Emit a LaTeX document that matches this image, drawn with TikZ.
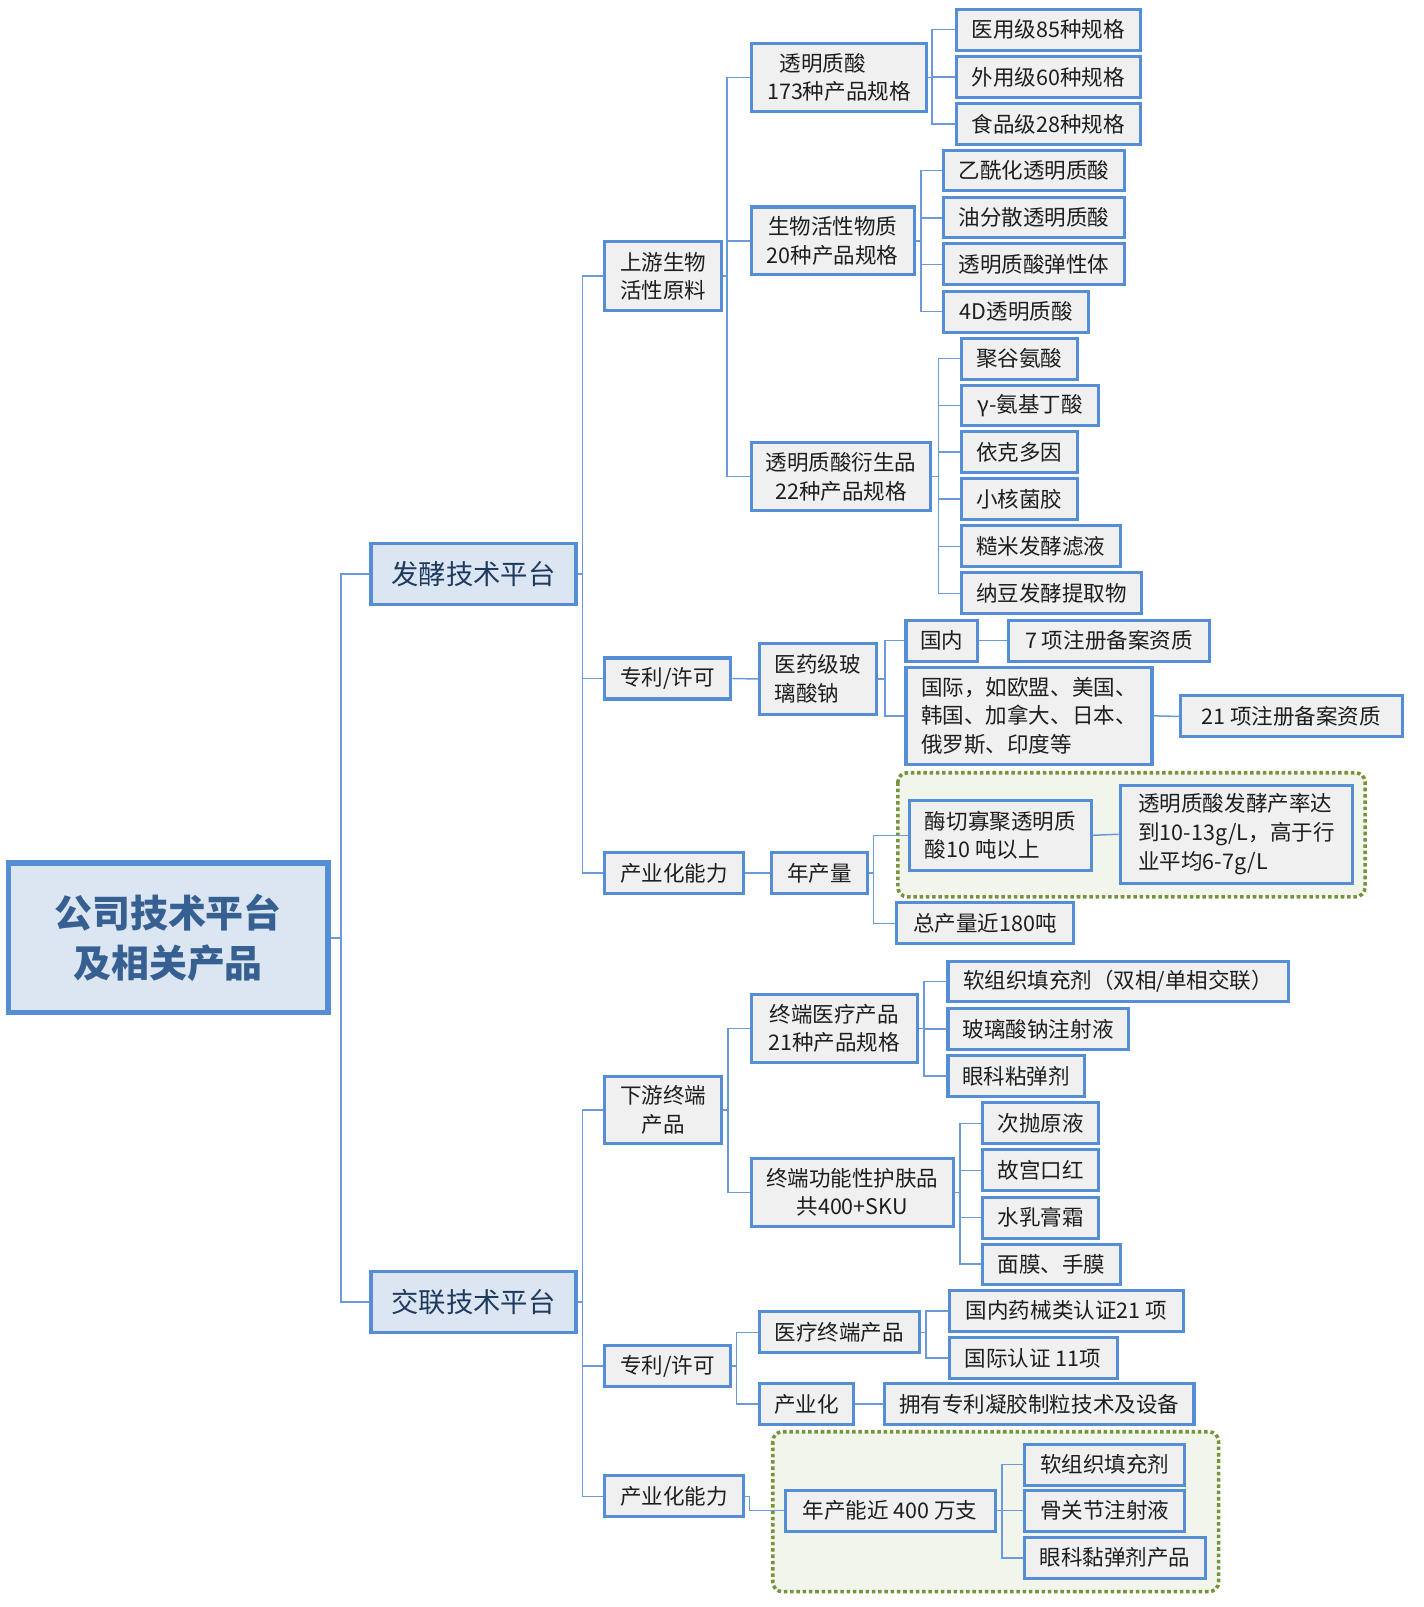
\documentclass[tikz,border=0pt]{standalone}
\usepackage{fontspec}
\newfontfamily\cjk{Noto Sans CJK SC}
\definecolor{bord}{HTML}{558ED5}
\definecolor{lnc}{HTML}{6A9BD8}
\definecolor{leaf}{HTML}{F0F0F0}
\definecolor{lvl}{HTML}{DCE6F2}
\definecolor{txt}{HTML}{1E1E1E}
\definecolor{navy}{HTML}{1F3A5F}
\definecolor{roottxt}{HTML}{376092}
\definecolor{grn}{HTML}{77933C}
\definecolor{grnfill}{HTML}{F2F5EC}
\newcommand\linkto[3]{\draw[ln] (#1.east) -- ++(#3,0) |- (#2.west);}
\tikzset{
  bspan/.style n args={4}{minimum width={(#3-#1)*0.75pt}, minimum height={(#4-#2)*0.75pt},
    at={({(#1+#3)/2},{(#2+#4)/2})}},
  bbase/.style={draw=bord, line width=2.25pt, fill=leaf, inner sep=0pt, text=txt,
    font=\cjk\fontsize{15.75}{21}\selectfont},
  bx/.style={bbase, align=center},
  lbx/.style={bbase, align=left},
  lv/.style={bx, fill=lvl, text=navy, font=\cjk\fontsize{20}{26}\selectfont},
  rootbox/.style={bx, fill=lvl, line width=3.75pt, text=roottxt,
    font=\cjk\bfseries\fontsize{27.75}{37}\selectfont},
  ln/.style={draw=lnc, line width=1.1pt},
  grnbox/.style={draw=grn, fill=grnfill, line width=2.6pt, dotted, rounded corners=7pt},
}
\begin{document}
\begin{tikzpicture}[x=0.75pt,y=-0.75pt]
\useasboundingbox (0,0) rectangle (1389,1568);
% green groups
\draw[grnbox] (876,754) rectangle (1332,875);
\draw[grnbox] (754,1397) rectangle (1189,1553);
% root and level 1
\node[rootbox, bspan={8}{842}{320}{988}] (root) {公司技术平台\\及相关产品};
\node[lv, bspan={362}{530}{562}{590}] (f1) {发酵技术平台};
\node[lv, bspan={362}{1241}{562}{1300}] (f2) {交联技术平台};
% fermentation
\node[bx, bspan={590}{236}{704}{303}] (A) {上游生物\\活性原料};
\node[bx, bspan={590}{642}{713}{682}] (B) {专利/许可};
\node[bx, bspan={590}{832}{725}{872}] (C) {产业化能力};
\node[bx, bspan={733}{42}{904}{109}] (A1) {透明质酸\hspace*{1.5em}\\173种产品规格};
\node[bx, bspan={733}{202}{892}{268}] (A2) {生物活性物质\\20种产品规格};
\node[bx, bspan={733}{432}{908}{498}] (A3) {透明质酸衍生品\\22种产品规格};
\node[bx, bspan={933}{9}{1113}{49}] (A1a) {医用级85种规格};
\node[bx, bspan={933}{55}{1113}{95}] (A1b) {外用级60种规格};
\node[bx, bspan={933}{101}{1113}{141}] (A1c) {食品级28种规格};
\node[bx, bspan={921}{147}{1097}{186}] (A2a) {乙酰化透明质酸};
\node[bx, bspan={921}{193}{1097}{232}] (A2b) {油分散透明质酸};
\node[bx, bspan={921}{238}{1097}{278}] (A2c) {透明质酸弹性体};
\node[bx, bspan={921}{284}{1062}{324}] (A2d) {4D透明质酸};
\node[bx, bspan={938}{330}{1051}{370}] (A3a) {聚谷氨酸};
\node[bx, bspan={938}{376}{1072}{415}] (A3b) {γ-氨基丁酸};
\node[bx, bspan={938}{421}{1051}{461}] (A3c) {依克多因};
\node[bx, bspan={938}{467}{1051}{507}] (A3d) {小核菌胶};
\node[bx, bspan={938}{513}{1093}{553}] (A3e) {糙米发酵滤液};
\node[bx, bspan={938}{559}{1114}{599}] (A3f) {纳豆发酵提取物};
\node[lbx, bspan={741}{628}{855}{697}] (B1) {医药级玻\\璃酸钠};
\node[bx, bspan={884}{605}{954}{645}] (B1a) {国内};
\node[lbx, bspan={884}{651}{1124}{746}] (B1b) {国际，如欧盟、美国、\\韩国、加拿大、日本、\\俄罗斯、印度等};
\node[bx, bspan={984}{605}{1180}{645}] (B1a1) {7 项注册备案资质};
\node[bx, bspan={1152}{679}{1368}{719}] (B1b1) {21 项注册备案资质};
\node[bx, bspan={753}{832}{846}{872}] (C1) {年产量};
\node[lbx, bspan={887}{781}{1065}{849}] (C1a) {酶切寡聚透明质\\酸10 吨以上};
\node[lbx, bspan={1093}{766}{1320}{862}] (C1a1) {透明质酸发酵产率达\\到10-13g/L，高于行\\业平均6-7g/L};
\node[bx, bspan={875}{881}{1047}{921}] (C1b) {总产量近180吨};
% crosslinking
\node[bx, bspan={590}{1050}{704}{1116}] (D) {下游终端\\产品};
\node[bx, bspan={590}{1313}{713}{1353}] (E) {专利/许可};
\node[bx, bspan={590}{1440}{725}{1480}] (F) {产业化能力};
\node[bx, bspan={733}{970}{895}{1037}] (D1) {终端医疗产品\\21种产品规格};
\node[bx, bspan={733}{1130}{930}{1197}] (D2) {终端功能性护肤品\\共400+SKU};
\node[bx, bspan={925}{938}{1257}{977}] (D1a) {软组织填充剂（双相/单相交联）};
\node[bx, bspan={925}{984}{1101}{1024}] (D1b) {玻璃酸钠注射液};
\node[bx, bspan={925}{1030}{1058}{1070}] (D1c) {眼科粘弹剂};
\node[bx, bspan={959}{1076}{1072}{1116}] (D2a) {次抛原液};
\node[bx, bspan={959}{1122}{1072}{1162}] (D2b) {故宫口红};
\node[bx, bspan={959}{1168}{1072}{1208}] (D2c) {水乳膏霜};
\node[bx, bspan={959}{1214}{1093}{1253}] (D2d) {面膜、手膜};
\node[bx, bspan={741}{1280}{897}{1320}] (E1) {医疗终端产品};
\node[bx, bspan={741}{1350}{833}{1390}] (E2) {产业化};
\node[bx, bspan={926}{1259}{1155}{1299}] (E1a) {国内药械类认证21 项};
\node[bx, bspan={926}{1305}{1090}{1345}] (E1b) {国际认证 11项};
\node[bx, bspan={863}{1350}{1165}{1390}] (E2a) {拥有专利凝胶制粒技术及设备};
\node[bx, bspan={766}{1454}{971}{1494}] (F1) {年产能近 400 万支};
\node[bx, bspan={1000}{1409}{1156}{1449}] (F1a) {软组织填充剂};
\node[bx, bspan={1000}{1454}{1156}{1494}] (F1b) {骨关节注射液};
\node[bx, bspan={1000}{1500}{1176}{1540}] (F1c) {眼科黏弹剂产品};
% connectors
\linkto{root}{f1}{10} \linkto{root}{f2}{10}
\linkto{f1}{A}{5} \linkto{f1}{B}{5} \linkto{f1}{C}{5}
\linkto{A}{A1}{4} \linkto{A}{A2}{4} \linkto{A}{A3}{4}
\linkto{A1}{A1a}{4} \linkto{A1}{A1b}{4} \linkto{A1}{A1c}{4}
\linkto{A2}{A2a}{5} \linkto{A2}{A2b}{5} \linkto{A2}{A2c}{5} \linkto{A2}{A2d}{5}
\linkto{A3}{A3a}{6} \linkto{A3}{A3b}{6} \linkto{A3}{A3c}{6} \linkto{A3}{A3d}{6} \linkto{A3}{A3e}{6} \linkto{A3}{A3f}{6}
\draw[ln] (B.east) -- (B1.west);
\linkto{B1}{B1a}{7} \linkto{B1}{B1b}{7}
\draw[ln] (B1a.east) -- (B1a1.west);
\draw[ln] (B1b.east) -- (B1b1.west);
\draw[ln] (C.east) -- (C1.west);
\linkto{C1}{C1a}{5} \linkto{C1}{C1b}{5}
\draw[ln] (C1a.east) -- (C1a1.west);
\linkto{f2}{D}{5} \linkto{f2}{E}{5} \linkto{f2}{F}{5}
\linkto{D}{D1}{5} \linkto{D}{D2}{5}
\linkto{D1}{D1a}{5} \linkto{D1}{D1b}{5} \linkto{D1}{D1c}{5}
\linkto{D2}{D2a}{5} \linkto{D2}{D2b}{5} \linkto{D2}{D2c}{5} \linkto{D2}{D2d}{5}
\linkto{E}{E1}{4} \linkto{E}{E2}{4}
\linkto{E1}{E1a}{5} \linkto{E1}{E1b}{5}
\draw[ln] (E2.east) -- (E2a.west);
\linkto{F}{F1}{5}
\linkto{F1}{F1a}{5} \linkto{F1}{F1b}{5} \linkto{F1}{F1c}{5}
\end{tikzpicture}
\end{document}
